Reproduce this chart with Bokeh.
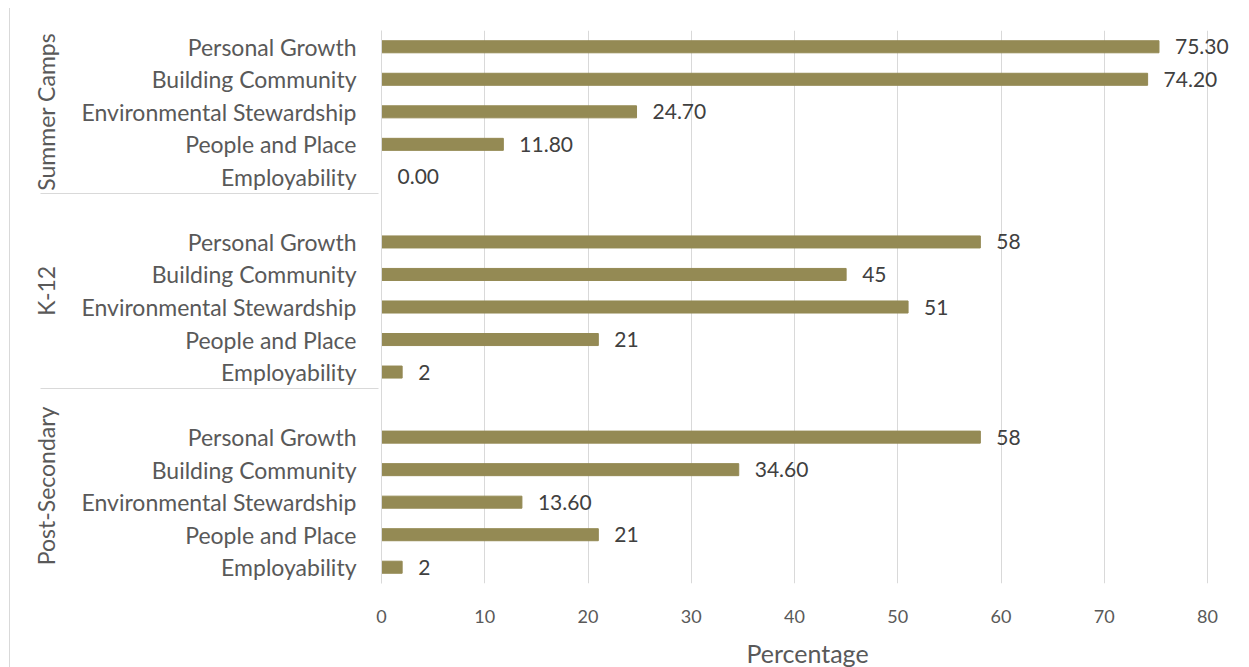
from bokeh.plotting import figure
from bokeh.models import FactorRange, ColumnDataSource, Range1d, FixedTicker
from bokeh.core.properties import value
from bokeh.embed import file_html
from bokeh.resources import INLINE

groups = ["Summer Camps", "K-12", "Post-Secondary"]
items = ["Personal Growth", "Building Community", "Environmental Stewardship",
         "People and Place", "Employability"]
summer_values = [75.3, 74.2, 24.7, 11.8, 0.0]
k12_values = [58, 45, 51, 21, 2]
post_values = [58, 34.6, 13.6, 21, 2]
summer_labels = ["75.30", "74.20", "24.70", "11.80", "0.00"]
k12_labels = ["58", "45", "51", "21", "2"]
post_labels = ["58", "34.60", "13.60", "21", "2"]
x_ticks = [0, 10, 20, 30, 40, 50, 60, 70, 80]

group_values = [summer_values, k12_values, post_values]
group_labels = [summer_labels, k12_labels, post_labels]

# factors listed bottom -> top
factors = []
for gi in reversed(range(len(groups))):
    g = groups[gi]
    for it in reversed(items):
        factors.append((g, it))
    if gi > 0:
        factors.append((g, " "))

ys, xs, labs = [], [], []
for g, vals, lbls in zip(groups, group_values, group_labels):
    for it, v, l in zip(items, vals, lbls):
        ys.append((g, it))
        xs.append(v)
        labs.append(l)
src = ColumnDataSource(dict(y=ys, x=xs, lab=labs))

FONT = "Lato"
FRAME_W = 852
X_MAX = FRAME_W / (826 / 80)   # 80 sits at 826 px; extra room for value labels
p = figure(
    y_range=FactorRange(*factors, group_padding=0, range_padding=0),
    x_range=Range1d(0, X_MAX),
    width=1234, height=657,
    frame_width=FRAME_W, frame_height=553,
    min_border_left=371, min_border_right=10, min_border_top=22, min_border_bottom=82,
    output_backend="svg", toolbar_location=None,
)
p.styles = {"margin-left": "9px", "margin-top": "8px", "border-left": "1px solid #d9d9d9"}
p.outline_line_color = None

p.hbar(y="y", right="x", left=0, height=0.37, source=src,
       fill_color="#948A54", line_color="#948A54")
p.text(x="x", y="y", text="lab", source=src, x_offset=16,
       text_align="left", text_baseline="middle",
       text_font=value(FONT), text_font_size="21px", text_color="#404040")

p.ygrid.grid_line_color = None
p.xgrid.grid_line_color = "#d9d9d9"
p.xgrid.ticker = FixedTicker(ticks=x_ticks)

xa = p.xaxis[0]
xa.ticker = FixedTicker(ticks=x_ticks)
xa.axis_line_color = None
xa.major_tick_line_color = None
xa.minor_tick_line_color = None
xa.major_label_standoff = 20
xa.major_label_text_font = FONT
xa.major_label_text_font_size = "18px"
xa.major_label_text_color = "#595959"
xa.axis_label = "Percentage"
xa.axis_label_text_font = FONT
xa.axis_label_text_font_size = "25px"
xa.axis_label_text_font_style = "normal"
xa.axis_label_text_color = "#595959"
xa.axis_label_standoff = 12

ya = p.yaxis[0]
ya.axis_line_color = "#d9d9d9"
ya.major_tick_line_color = None
ya.minor_tick_line_color = None
ya.major_label_standoff = 19
ya.major_label_text_font = FONT
ya.major_label_text_font_size = "23px"
ya.major_label_text_color = "#595959"
ya.group_text_font = FONT
ya.group_text_font_size = "23px"
ya.group_text_font_style = "normal"
ya.group_text_color = "#595959"
ya.separator_line_color = "#d9d9d9"
ya.separator_line_width = 1

open("out.html", "w").write(file_html(p, INLINE))
